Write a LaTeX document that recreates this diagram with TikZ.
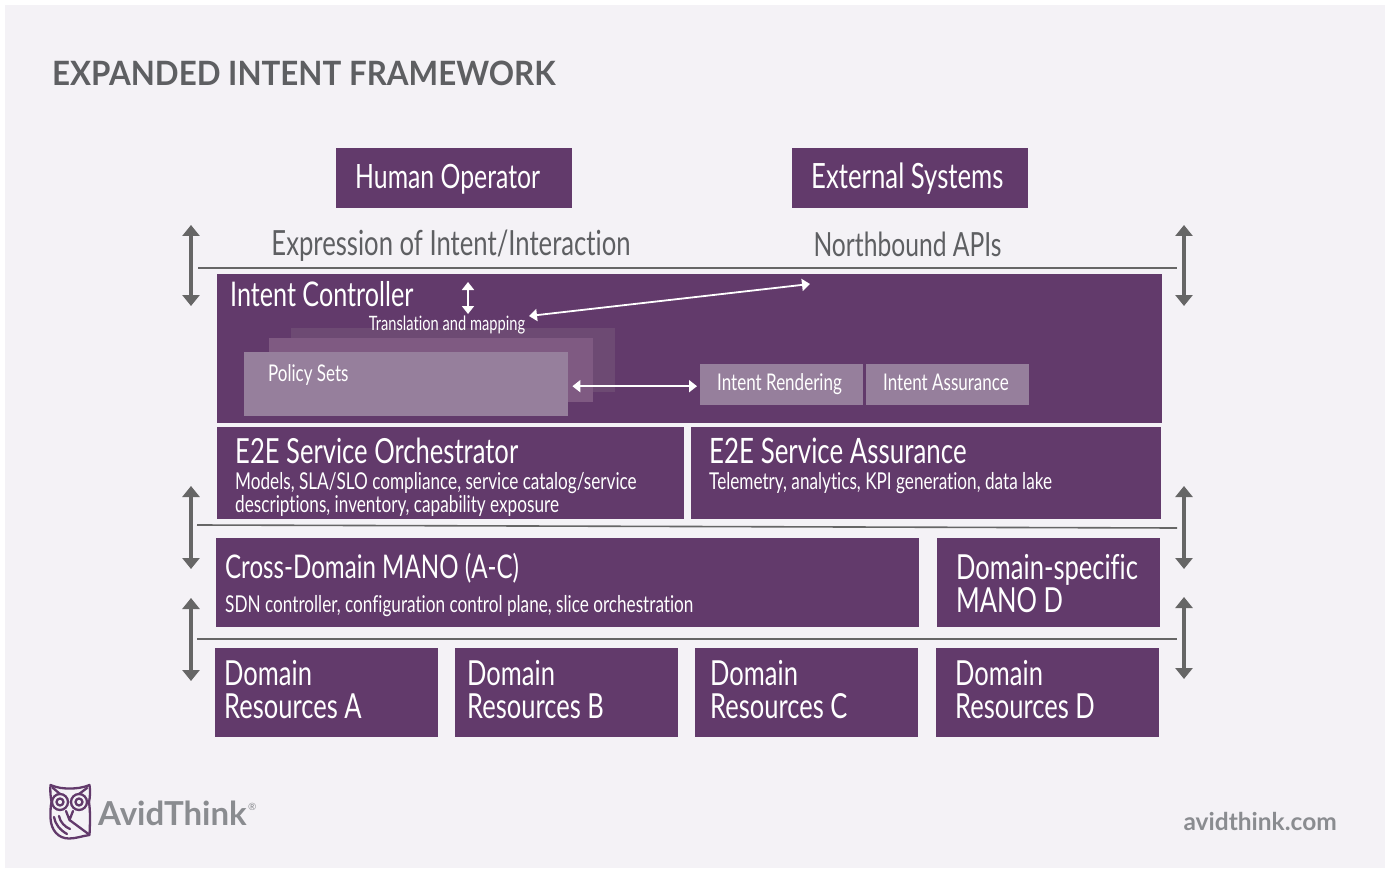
\documentclass[tikz,border=0pt]{standalone}
\usepackage{fontspec}
\setmainfont{Lato}[FakeStretch=0.74,Ligatures=NoCommon]
\newfontfamily\titlefont{Lato}[BoldFont={Lato Bold},FakeStretch=0.935]
\newfontfamily\logofont{Lato}[BoldFont={Lato Bold}]
\usetikzlibrary{arrows.meta}
\definecolor{pagebg}{HTML}{F4F2F6}
\definecolor{avidpurple}{HTML}{623A6B}
\definecolor{policyfront}{HTML}{967F9C}
\definecolor{policymid}{HTML}{7F5A82}
\definecolor{policyback}{HTML}{6D4A73}
\definecolor{avidgray}{HTML}{5E5F62}
\definecolor{linegray}{HTML}{666666}
\definecolor{logogray}{HTML}{8A8C90}
\tikzset{
  box/.style={fill=avidpurple,anchor=north west,inner sep=0pt},
  big/.style={font=\fontsize{#1}{33}\selectfont},
  big/.default=33.5,
  mid/.style={font=\fontsize{34.5}{33}\selectfont},
  small/.style={font=\fontsize{23.2}{23}\selectfont},
  tiny/.style={font=\fontsize{23}{23}\selectfont},
  label/.style={text=white,anchor=west,inner sep=0pt,align=left},
  layer/.style={anchor=north west,minimum width=324pt,minimum height=64pt,inner sep=0pt},
  rulebar/.style={draw=linegray,line width=1.6pt},
  updown/.style={draw=linegray,line width=3.4pt,{Triangle[width=17pt,length=11pt]}-{Triangle[width=17pt,length=11pt]}},
  whitearrow/.style={draw=white,line width=1.8pt,{Triangle[width=12pt,length=8pt]}-{Triangle[width=12pt,length=8pt]}},
  caption/.style={text=avidgray,anchor=center}
}
\begin{document}
\begin{tikzpicture}[x=1pt,y=-1pt]
  \useasboundingbox (0,0) rectangle (1387,869);
  \fill[pagebg] (5,5) rectangle (1385,868);
  \node[text=avidgray,anchor=west,inner sep=0pt,font=\titlefont\bfseries\fontsize{33.5}{34}\selectfont] (title) at (52,73) {EXPANDED INTENT FRAMEWORK};
  % top row
  \node[box,minimum width=236pt,minimum height=60pt] (human) at (336,148) {};
  \node[label,big=33.5] (humantext) at (355,179) {Human Operator};
  \node[box,minimum width=236pt,minimum height=60pt] (external) at (792,148) {};
  \node[label,big=34.8] (externaltext) at (811,179) {External Systems};
  \node[caption,big=34.7] (expression) at (451,246) {Expression of Intent/Interaction};
  \node[caption,big=33.3] (northbound) at (907.5,244) {Northbound APIs};
  % intent controller
  \node[box,minimum width=945pt,minimum height=149pt] (controller) at (217,274) {};
  \node[label,big=34] (controllertitle) at (230,294) {Intent Controller};
  \node[layer,fill=policyback] (policyc) at (291,328) {};
  \node[layer,fill=policymid] (policyb) at (269,338) {};
  \node[layer,fill=policyfront] (policya) at (244,352) {};
  \node[label,anchor=center,font=\fontsize{19.8}{20}\selectfont] (translation) at (447,325) {Translation and mapping};
  \node[label,tiny] (policytext) at (268,375) {Policy Sets};
  \node[box,fill=policyfront,minimum width=163pt,minimum height=41pt] (rendering) at (700,364) {};
  \node[label,tiny] (renderingtext) at (717,384) {Intent Rendering};
  \node[box,fill=policyfront,minimum width=163pt,minimum height=41pt] (assurance) at (866,364) {};
  \node[label,tiny] (assurancetext) at (883,382) {Intent Assurance};
  % service layer
  \node[box,minimum width=467pt,minimum height=92pt] (orchestrator) at (217,427) {};
  \node[label,big=34.6] (orchtitle) at (235,451) {E2E Service Orchestrator};
  \node[label,anchor=north west,small] (orchtext) at (235,472) {Models, SLA/SLO compliance, service catalog/service\\descriptions, inventory, capability exposure};
  \node[box,minimum width=470pt,minimum height=92pt] (serviceassurance) at (691,427) {};
  \node[label,big=35] (sa) at (709,451) {E2E Service Assurance};
  \node[label,small] (satext) at (709,483) {Telemetry, analytics, KPI generation, data lake};
  % mano layer
  \node[box,minimum width=703pt,minimum height=89pt] (cross) at (216,538) {};
  \node[label,big=32.6] (crosstitle) at (225,568) {Cross-Domain MANO (A-C)};
  \node[label,small] (crosstext) at (225,606) {SDN controller, configuration control plane, slice orchestration};
  \node[box,minimum height=89pt,minimum width=223pt] (manod) at (937,538) {};
  \node[label,mid] (manodtext) at (956,583.5) {Domain-specific\\MANO D};
  % resources
  \node[box,minimum width=223pt,minimum height=89pt] (resa) at (215,648) {};
  \node[label,mid] (resatext) at (224,689.5) {Domain\\Resources A};
  \node[box,minimum width=223pt,minimum height=89pt] (resb) at (455,648) {};
  \node[label,mid] (resbtext) at (467,689.5) {Domain\\Resources B};
  \node[box,minimum width=223pt,minimum height=89pt] (resc) at (695,648) {};
  \node[label,mid] (resctext) at (710,689.5) {Domain\\Resources C};
  \node[box,minimum width=223pt,minimum height=89pt] (resd) at (936,648) {};
  \node[label,mid] (resdtext) at (955,689.5) {Domain\\Resources D};
  % rules and arrows
  \coordinate (ruleal) at (198,268); \coordinate (ruleam) at (1177,268);
  \coordinate (rulebl) at (197,525); \coordinate (rulebm) at (1177,528);
  \coordinate (rulecl) at (197,639); \coordinate (rulecm) at (1177,639);
  \draw[rulebar] (ruleal) -- (ruleam);
  \draw[rulebar] (rulebl) -- (rulebm);
  \draw[rulebar] (rulecl) -- (rulecm);
  \foreach \n/\x/\a/\b in {la/191/225/306,lb/191/486/569,lc/191/598/681,ra/1184/225/306,rb/1184/486/569,rc/1184/597/679}{
    \coordinate (\n top) at (\x,\a);
    \coordinate (\n bot) at (\x,\b);
    \draw[updown] (\n top) -- (\n bot);
  }
  \coordinate (transtop) at (468,282); \coordinate (transbot) at (468,314);
  \coordinate (mapfrom) at (529,316); \coordinate (mapto) at (810,284);
  \draw[whitearrow] (transtop) -- (transbot);
  \draw[whitearrow] (mapfrom) -- (mapto);
  \draw[whitearrow] ([xshift=4pt,yshift=-2pt]policya.east) -- ([xshift=-3pt,yshift=-1.5pt]rendering.west);
  % logo
  \begin{scope}[draw=avidpurple,line width=2.3pt,line join=round,line cap=round]
    \draw (50.5,785) .. controls (58,788) and (63,788.5) .. (69.5,788.5) .. controls (76,788.5) and (82,788) .. (89.5,785)
      .. controls (90.5,792) and (90,797) .. (89,802) .. controls (90.5,812) and (90,824) .. (89.5,835)
      .. controls (82,836) and (76,838.5) .. (69,838.5) .. controls (58,838.5) and (51,830) .. (50.5,818)
      .. controls (50.5,810) and (50.5,806) .. (51.5,802) .. controls (50.5,796) and (50,791) .. (50.5,785) -- cycle;
    \draw (60,802) circle (8pt) (79,802) circle (8pt);
    \draw (60,802) circle (3.5pt) (79,802) circle (3.5pt);
    \draw (53,788) -- (60,794) (87,788) -- (79,794);
    \draw (66,811) -- (69.5,820) -- (73,811);
    \draw (69.5,820) -- (88.5,834);
    \draw (54,817) .. controls (55,824) and (60,830) .. (67,834);
    \draw (59,816) .. controls (60,822) and (65,827) .. (70,829);
  \end{scope}
  \node[text=logogray,anchor=west,inner sep=0pt,font=\logofont\bfseries\fontsize{33}{33}\selectfont] (logotext) at (98,813) {AvidThink};
  \node[text=logogray,anchor=west,inner sep=0pt,font=\logofont\fontsize{10}{10}\selectfont] (logomark) at (248,807) {®};
  \node[text=logogray,anchor=east,inner sep=0pt,font=\logofont\bfseries\fontsize{24.5}{25}\selectfont] (site) at (1337,821) {avidthink.com};
\end{tikzpicture}
\end{document}
